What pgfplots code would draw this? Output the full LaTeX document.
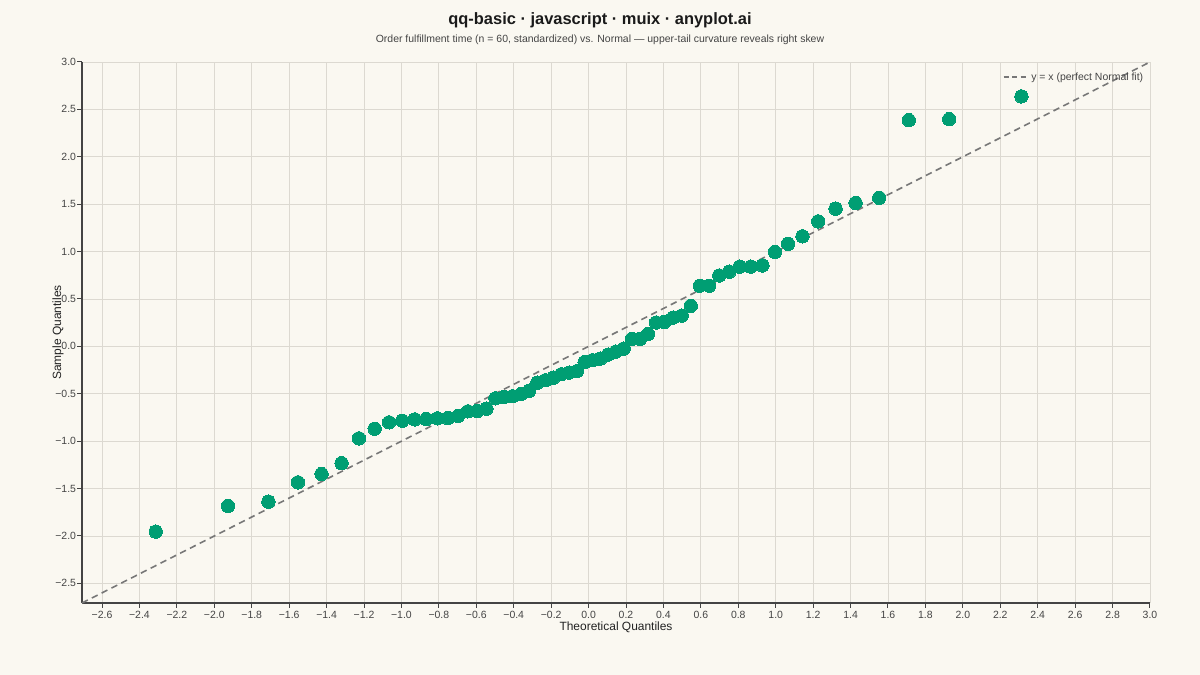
\documentclass[border=0pt]{standalone}
\usepackage{pgfplots}
\pgfplotsset{compat=1.18}
\usepackage{pgfplotstable}
\usepackage{fontspec}
\setmainfont{Liberation Sans}
\definecolor{bg}{HTML}{FAF8F1}
\definecolor{gridcol}{HTML}{DCD9D1}
\definecolor{axiscol}{HTML}{444444}
\definecolor{tickcol}{HTML}{444444}
\definecolor{ptcol}{HTML}{009E73}
\definecolor{refcol}{HTML}{777777}
\definecolor{titlecol}{HTML}{1A1A1A}
\definecolor{subcol}{HTML}{444444}
\definecolor{labcol}{HTML}{222222}

\pgfplotstableread{
x y
-2.313 -1.954
-1.927 -1.683
-1.711 -1.638
-1.553 -1.434
-1.427 -1.346
-1.320 -1.232
-1.227 -0.970
-1.143 -0.869
-1.066 -0.801
-0.996 -0.784
-0.929 -0.770
-0.867 -0.766
-0.808 -0.759
-0.752 -0.756
-0.698 -0.735
-0.645 -0.685
-0.595 -0.682
-0.546 -0.657
-0.498 -0.548
-0.452 -0.534
-0.406 -0.526
-0.361 -0.502
-0.317 -0.467
-0.274 -0.383
-0.231 -0.357
-0.188 -0.330
-0.146 -0.294
-0.104 -0.277
-0.063 -0.262
-0.021 -0.166
0.021 -0.146
0.063 -0.129
0.104 -0.087
0.146 -0.055
0.188 -0.023
0.231 0.079
0.274 0.079
0.317 0.129
0.361 0.252
0.406 0.259
0.452 0.304
0.498 0.325
0.546 0.428
0.595 0.640
0.645 0.640
0.698 0.748
0.752 0.788
0.808 0.841
0.867 0.841
0.929 0.854
0.996 0.996
1.066 1.083
1.143 1.161
1.227 1.319
1.320 1.453
1.427 1.513
1.553 1.568
1.711 2.387
1.927 2.397
2.313 2.637
}\qqdata

\begin{document}
\begin{tikzpicture}
\fill[bg] (0bp,0bp) rectangle (1200bp,675bp);
\useasboundingbox (0bp,0bp) rectangle (1200bp,675bp);
\node[font=\fontsize{16.5}{20}\selectfont\bfseries, text=titlecol] at (600bp,655bp) {qq-basic · javascript · muix · anyplot.ai};
\node[font=\fontsize{10.5}{13}\selectfont, text=subcol] at (600bp,635bp) {Order fulfillment time (n = 60, standardized) vs. Normal — upper-tail curvature reveals right skew};
\begin{axis}[
  at={(82bp,72bp)}, anchor=south west,
  scale only axis, width=1068bp, height=541bp,
  xmin=-2.707, xmax=3.0, ymin=-2.707, ymax=3.0,
  axis lines=left,
  axis line style={-, color=axiscol, line width=1.3bp},
  tick align=outside, major tick length=5bp,
  tick style={color=axiscol, line width=1bp},
  grid=major, grid style={color=gridcol, line width=0.8bp},
  xtick={-2.6,-2.4,-2.2,-2.0,-1.8,-1.6,-1.4,-1.2,-1.0,-0.8,-0.6,-0.4,-0.2,0.0,0.2,0.4,0.6,0.8,1.0,1.2,1.4,1.6,1.8,2.0,2.2,2.4,2.6,2.8,3.0},
  xticklabels={−2.6,−2.4,−2.2,−2.0,−1.8,−1.6,−1.4,−1.2,−1.0,−0.8,−0.6,−0.4,−0.2,0.0,0.2,0.4,0.6,0.8,1.0,1.2,1.4,1.6,1.8,2.0,2.2,2.4,2.6,2.8,3.0},
  ytick={-2.5,-2.0,-1.5,-1.0,-0.5,0.0,0.5,1.0,1.5,2.0,2.5,3.0},
  yticklabels={−2.5,−2.0,−1.5,−1.0,−0.5,0.0,0.5,1.0,1.5,2.0,2.5,3.0},
  ticklabel style={font=\fontsize{10.5}{12}\selectfont, text=tickcol},
  yticklabel style={xshift=2.5bp},
  legend style={draw=none, fill=none, at={(rel axis cs:0.9985,0.9723)}, anchor=east,
    font=\fontsize{10.5}{12}\selectfont, text=tickcol, column sep=3bp},
  legend image code/.code={\draw[#1, line width=1.2bp, dash pattern=on 5bp off 3.5bp] (0bp,0bp) -- (22bp,0bp);},
  clip=false,
]
\addplot[refcol, line width=1.6bp, dash pattern=on 6.5bp off 4.5bp] coordinates {(-2.707,-2.707) (3.0,3.0)};
\addlegendentry{y = x (perfect Normal fit)}
\addplot[color=ptcol, only marks, mark=*, mark size=6.7bp, mark options={fill=ptcol, draw=ptcol, line width=0pt}, forget plot] table[x=x,y=y] {\qqdata};
\end{axis}
\node[rotate=90, font=\fontsize{12}{14}\selectfont, text=labcol] at (58bp,342.5bp) {Sample Quantiles};
\node[font=\fontsize{12}{14}\selectfont, text=labcol] at (616bp,48bp) {Theoretical Quantiles};
\end{tikzpicture}
\end{document}
